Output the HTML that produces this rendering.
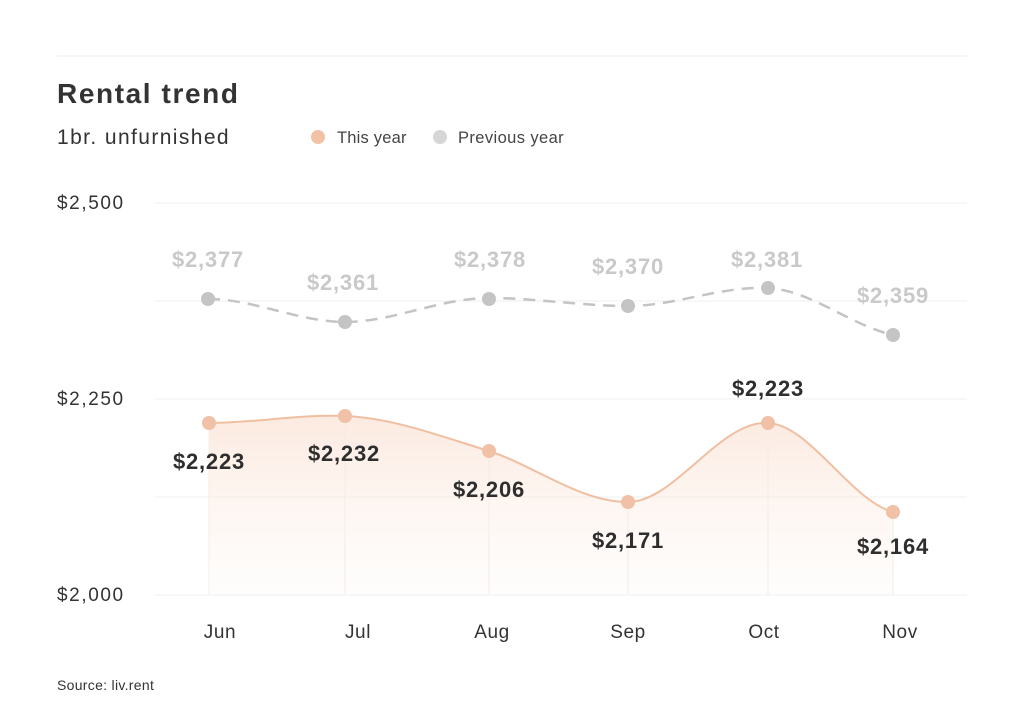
<!DOCTYPE html>
<html><head><meta charset="utf-8"><style>
html,body{margin:0;padding:0;background:#fff;}
body{width:1024px;height:717px;overflow:hidden;font-family:"Liberation Sans",sans-serif;}
</style></head><body>
<svg width="1024" height="717" viewBox="0 0 1024 717" xmlns="http://www.w3.org/2000/svg" font-family="Liberation Sans, sans-serif">
<defs>
<linearGradient id="g" x1="0" y1="0" x2="0" y2="1">
<stop offset="0" stop-color="#f9d9c6" stop-opacity="0.55"/>
<stop offset="1" stop-color="#fdf1ea" stop-opacity="0.15"/>
</linearGradient>
</defs>
<line x1="57" y1="56" x2="967" y2="56" stroke="#ececec" stroke-width="1"/>
<text x="57" y="103" font-size="28" font-weight="bold" fill="#333" letter-spacing="1.6">Rental trend</text>
<text x="57" y="144" font-size="21" fill="#333" letter-spacing="1.4">1br. unfurnished</text>
<circle cx="318" cy="137" r="7" fill="#f2c2a6"/>
<text x="337" y="143" font-size="16.5" fill="#444" letter-spacing="0.2">This year</text>
<circle cx="440" cy="137" r="7" fill="#d6d6d6"/>
<text x="458" y="143" font-size="16.5" fill="#444" letter-spacing="0.4">Previous year</text>
<g stroke="#efefef" stroke-width="1">
<line x1="155" y1="203" x2="967" y2="203"/>
<line x1="155" y1="301" x2="967" y2="301"/>
<line x1="155" y1="399" x2="967" y2="399"/>
<line x1="155" y1="497" x2="967" y2="497"/>
<line x1="155" y1="595" x2="967" y2="595"/>
</g>
<g font-size="19" fill="#333" letter-spacing="1.6">
<text x="57" y="209">$2,500</text>
<text x="57" y="405">$2,250</text>
<text x="57" y="601">$2,000</text>
</g>
<path d="M209,423 C255,423 300,414 345,416 C393,418 440,436 489,451 C535,466 580,502 628,502 C675,502 720,420 768,423 C810,425 850,500 893,512 L893,595 L209,595 Z" fill="url(#g)"/>
<g stroke="#f3ece8" stroke-width="1">
<line x1="209" y1="423" x2="209" y2="595"/>
<line x1="345" y1="416" x2="345" y2="595"/>
<line x1="489" y1="451" x2="489" y2="595"/>
<line x1="628" y1="502" x2="628" y2="595"/>
<line x1="768" y1="423" x2="768" y2="595"/>
<line x1="893" y1="512" x2="893" y2="595"/>
</g>
<path d="M209,423 C255,423 300,414 345,416 C393,418 440,436 489,451 C535,466 580,502 628,502 C675,502 720,420 768,423 C810,425 850,500 893,512" fill="none" stroke="#f0bfa2" stroke-width="2"/>
<path d="M208,299 C254,299 299,322 345,322 C393,322 440,298 489,298 C535,298 582,306 628,306 C675,306 720,286 768,288 C810,290 850,325 893,335" fill="none" stroke="#c4c4c4" stroke-width="2.5" stroke-dasharray="12,8"/>
<g fill="#c4c4c4">
<circle cx="208" cy="299" r="7"/><circle cx="345" cy="322" r="7"/><circle cx="489" cy="299" r="7"/>
<circle cx="628" cy="306" r="7"/><circle cx="768" cy="288" r="7"/><circle cx="893" cy="335" r="7"/>
</g>
<g fill="#f0c1a6">
<circle cx="209" cy="423" r="7"/><circle cx="345" cy="416" r="7"/><circle cx="489" cy="451" r="7"/>
<circle cx="628" cy="502" r="7"/><circle cx="768" cy="423" r="7"/><circle cx="893" cy="512" r="7"/>
</g>
<g font-size="22" font-weight="bold" fill="#c9c9c9" text-anchor="middle" letter-spacing="0.8">
<text x="208" y="267">$2,377</text>
<text x="343" y="290">$2,361</text>
<text x="490" y="267">$2,378</text>
<text x="628" y="274">$2,370</text>
<text x="767" y="267">$2,381</text>
<text x="893" y="303">$2,359</text>
</g>
<g font-size="22" font-weight="bold" fill="#2e2e2e" text-anchor="middle" letter-spacing="0.8">
<text x="209" y="469">$2,223</text>
<text x="344" y="461">$2,232</text>
<text x="489" y="497">$2,206</text>
<text x="628" y="548">$2,171</text>
<text x="768" y="396">$2,223</text>
<text x="893" y="554">$2,164</text>
</g>
<g font-size="19" fill="#333" text-anchor="middle" letter-spacing="0.6">
<text x="220" y="638">Jun</text>
<text x="358" y="638">Jul</text>
<text x="492" y="638">Aug</text>
<text x="628" y="638">Sep</text>
<text x="764" y="638">Oct</text>
<text x="900" y="638">Nov</text>
</g>
<text x="57" y="690" font-size="14" fill="#333" letter-spacing="0.3">Source: liv.rent</text>
</svg>
</body></html>
